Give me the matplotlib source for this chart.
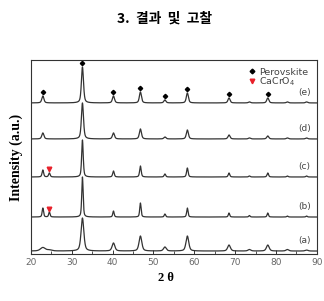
import numpy as np
import matplotlib
matplotlib.use("Agg")
import matplotlib.pyplot as plt
from matplotlib.lines import Line2D
from matplotlib.ticker import MultipleLocator

# ---- data ----
peak_pos = [22.9, 24.5, 32.6, 40.2, 46.8, 52.8, 58.3, 68.5, 73.5, 78.0, 82.8, 87.5]
samples = ["(a)", "(b)", "(c)", "(d)", "(e)"]
offsets = [3, 37, 77, 115, 151]
heights = {
    "(a)": [3.5, 1.0, 33, 8, 15, 4, 15, 6, 1.5, 6, 1.5, 1.0],
    "(b)": [9, 5, 40, 6, 14, 3, 9, 4, 1.5, 4, 1.0, 1.0],
    "(c)": [7, 4, 37, 6, 11, 3, 9, 4, 1.0, 4, 1.0, 1.0],
    "(d)": [6, 0, 36, 6, 10, 2, 9, 4, 1.0, 3, 1.0, 1.0],
    "(e)": [7, 0, 36, 7, 11, 3, 10, 5, 1.0, 5, 1.0, 1.0],
}
fwhm = {"(a)": 0.8, "(b)": 0.4, "(c)": 0.45, "(d)": 0.6, "(e)": 0.6}
hump_a_width = 1.4  # broad hump at 22.9 in (a)

perov_pos = [22.9, 32.6, 40.2, 46.8, 52.8, 58.3, 68.5, 78.0]
cacro_pos = [24.5]
cacro_samples = ["(b)", "(c)"]

fig = plt.figure(figsize=(3.24, 3.01), dpi=100)
ax = fig.add_axes([0.0957, 0.156, 0.882, 0.645])

x = np.linspace(20, 90, 3000)

def profile(xc, h, w):
    g = np.exp(-4 * np.log(2) * ((x - xc) / w) ** 2)
    l = 1 / (1 + 4 * ((x - xc) / w) ** 2)
    return h * (0.5 * g + 0.5 * l)

line_col = "#333333"
for s, off in zip(samples, offsets):
    y = np.full_like(x, off, dtype=float)
    for i, (p, h) in enumerate(zip(peak_pos, heights[s])):
        w = fwhm[s]
        if s == "(a)" and i in (0, 1):
            w = hump_a_width
        y += profile(p, h, w)
    ax.plot(x, y, color=line_col, lw=0.9)
    ax.text(88.5, off + 6, s, fontsize=6.5, color="#444444", ha="right", va="bottom",
            family="DejaVu Sans")

# markers for (e)
idx_e = samples.index("(e)")
for p in perov_pos:
    h = heights["(e)"][peak_pos.index(p)]
    ax.plot(p, offsets[idx_e] + h + 3.5, marker="D", ms=2.2, color="black", mec="black")
for s in cacro_samples:
    off = offsets[samples.index(s)]
    for p in cacro_pos:
        h = heights[s][peak_pos.index(p)]
        ax.plot(p, off + h + 3.5, marker="v", ms=3.3, color="#e8202a", mec="#e8202a")

ax.set_xlim(20, 90)
ax.set_ylim(0, 194)
ax.set_yticks([])
ax.xaxis.set_major_locator(MultipleLocator(10))
ax.xaxis.set_minor_locator(MultipleLocator(5))
ax.tick_params(axis="x", which="major", direction="in", length=3, width=0.7,
               labelsize=6.5, labelcolor="#666666", color="#333333", pad=3)
ax.tick_params(axis="x", which="minor", direction="in", length=2, width=0.6, color="#333333")
for sp in ax.spines.values():
    sp.set_linewidth(0.8)
    sp.set_color("#333333")

handles = [
    Line2D([], [], marker="D", ms=2.4, color="black", ls="none"),
    Line2D([], [], marker="v", ms=3.3, color="#e8202a", ls="none"),
]
leg = ax.legend(handles, ["Perovskite", "CaCrO$_4$"], loc="upper right",
                bbox_to_anchor=(0.99, 0.99), frameon=False, fontsize=6.8,
                labelspacing=-0.1, handletextpad=0.3, borderpad=0.1, handlelength=1.0)
for t in leg.get_texts():
    t.set_color("#444444")

fig.text(0.507, 0.937, "3.  결과  및  고찰", fontsize=10, fontweight="bold",
         family=["Noto Sans CJK KR", "DejaVu Sans"], ha="center", va="center")
fig.text(0.513, 0.075, "2 θ", fontsize=9, fontweight="bold", family="Liberation Serif",
         ha="center", va="center")
fig.text(0.051, 0.478, "Intensity (a.u.)", fontsize=10, fontweight="bold",
         family="Liberation Serif", rotation=90, ha="center", va="center")

fig.savefig("out.png", dpi=100)
